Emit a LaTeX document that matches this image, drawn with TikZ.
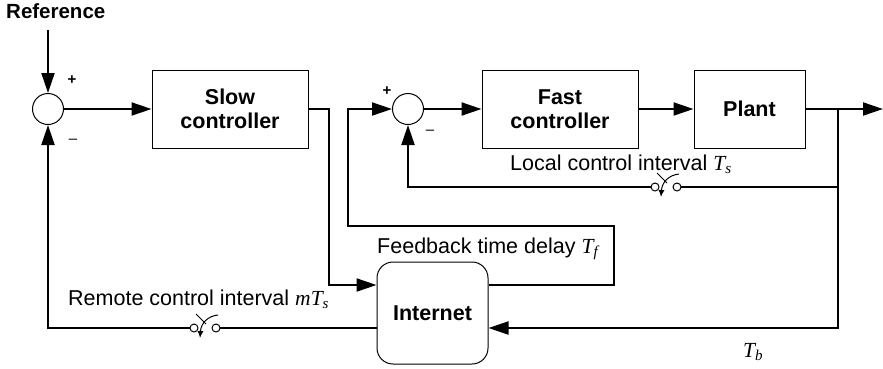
\documentclass[tikz,border=0pt]{standalone}
\usepackage{fontspec}
\setmainfont{Liberation Sans}
\newfontfamily\serifit[ItalicFont=Liberation Serif Italic]{Liberation Serif}
\usetikzlibrary{arrows.meta}

% variable en italique, avec indice
\newcommand\tvar[2]{{\serifit\itshape #1\textsubscript{#2}}}

\tikzset{
    sampler/.pic={
        \draw[line width=1pt, fill=white] (0,0) circle (4);
        \draw[line width=1pt, fill=white] (22,0) circle (4);
        \draw[line width=0.8pt] (2,-14) -- (12,-4);
        \draw[line width=1pt, -{Latex[length=7pt,width=6pt]}] (24,-13) .. controls (14,-12) and (7,-5) .. (6,10);
        \coordinate (-l) at (-4,0);
        \coordinate (-r) at (26,0);
    }
}

\begin{document}
\begin{tikzpicture}[
    x=1pt, y=-1pt,
    block/.style={draw, line width=1pt, minimum width=156, minimum height=78,
        align=center, font=\bfseries\fontsize{21.5}{24}\selectfont},
    net/.style={draw, line width=1pt, rounded corners=16, minimum width=111,
        minimum height=102, font=\bfseries\fontsize{21.5}{24}\selectfont},
    sum/.style={draw, circle, line width=1pt, minimum size=31, inner sep=0},
    lbl/.style={inner sep=0, font=\fontsize{21.5}{24}\selectfont},
    sgn/.style={inner sep=0, font=\fontsize{15}{15}\selectfont},
    sig/.style={line width=2pt, -{Triangle[length=20pt,width=13pt]}},
    wire/.style={line width=2pt}
]
\useasboundingbox (0,0) rectangle (883,368);

% Blocs
\node[sum] (s1) at (48,109) {};
\node[block] (slow) at (230,109) {Slow\\controller};
\node[sum] (s2) at (408,109) {};
\node[block] (fast) at (560,109) {Fast\\controller};
\node[block, minimum width=111] (plant) at (749.5,109) {Plant};
\node[net] (net) at (432.5,313) {Internet};

% Points libres
\coordinate (ref) at (48,30);
\coordinate (tap) at (838,109);
\coordinate (out) at (883,109);
\coordinate (fb) at (614,226);
\coordinate (fb2) at (348,226);

% Echantillonneurs
\pic (ls) at (655,187) {sampler};
\pic (rs) at (194,328) {sampler};

% Chaine directe
\draw[sig] (ref) -- (s1);
\draw[sig] (s1) -- (slow);
\draw[sig] (slow.east) -- ++(20,0) |- ([yshift=28pt]net.west);
\draw[sig] ([yshift=28pt]net.east) -| (fb) -- (fb2) |- (s2);
\draw[sig] (s2) -- (fast);
\draw[sig] (fast) -- (plant);
\draw[sig] (plant) -- (out);

% Boucles de retour
\draw[wire] (tap) |- (ls-r);
\draw[sig] (ls-l) -| (s2);
\draw[sig] (tap) |- ([yshift=-15pt]net.east);
\draw[wire] ([yshift=-15pt]net.west) -- (rs-r);
\draw[sig] (rs-l) -| (s1);

% Signes
\node[sgn, font=\bfseries\fontsize{15}{15}\selectfont] (p1) at (72,80) {+};
\node[sgn] (m1) at (73,141) {--};
\node[sgn, font=\bfseries\fontsize{15}{15}\selectfont] (p2) at (387,91) {+};
\node[sgn] (m2) at (430,132) {--};

% Textes
\node[lbl, anchor=base west, font=\bfseries\fontsize{20.5}{23}\selectfont] (title) at (6,18) {Reference};
\node[lbl, anchor=base west] (loc) at (510,170) {Local control interval \tvar{T}{s}};
\node[lbl, anchor=base west] (fbl) at (377,253) {Feedback time delay \tvar{T}{f}};
\node[lbl, anchor=base west] (rem) at (68,305) {Remote control interval \tvar{mT}{s}};
\node[lbl, anchor=base west] (tb) at (743,357) {\tvar{T}{b}};
\end{tikzpicture}
\end{document}
